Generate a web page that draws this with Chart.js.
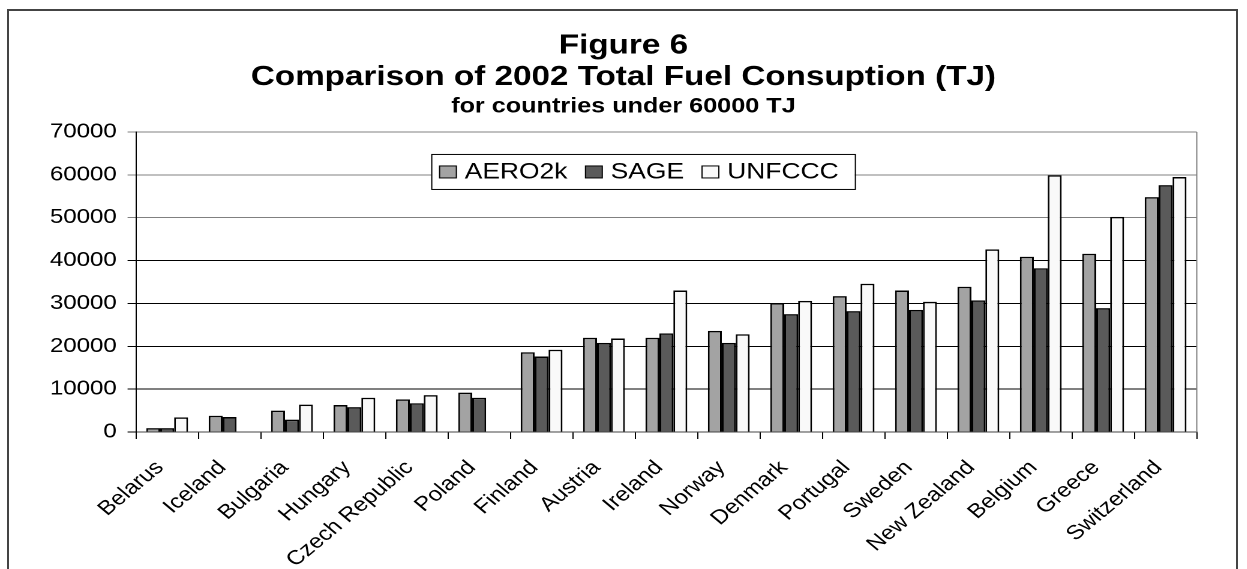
<!DOCTYPE html>
<html>
<head>
<meta charset="utf-8">
<script src="https://cdn.jsdelivr.net/npm/chart.js@4.4.1/dist/chart.umd.min.js"></script>
<style>
  html, body { margin: 0; padding: 0; background: #fff; overflow: hidden; }
  #frame { position: absolute; left: 7px; top: 9px; width: 1231px; height: 620px;
           border: 2px solid #444; box-sizing: border-box; }
  /* the original picture is stretched sideways, so draw narrow and widen it */
  #wrap { position: absolute; left: 0; top: 0; width: 1039px; height: 569px;
          transform: scaleX(1.2); transform-origin: 0 0; }
</style>
</head>
<body>
<div id="frame"></div>
<div id="wrap"><canvas id="fuelChart"></canvas></div>
<script>
// Figure 6 data (TJ)
const categories = ["Belarus", "Iceland", "Bulgaria", "Hungary", "Czech Republic", "Poland",
  "Finland", "Austria", "Ireland", "Norway", "Denmark", "Portugal", "Sweden",
  "New Zealand", "Belgium", "Greece", "Switzerland"];
const aero2k = [900, 3800, 5000, 6300, 7600, 9200, 18600, 22000, 22000, 23600, 30100,
  31700, 33000, 33900, 40900, 41600, 54800];
const sage = [900, 3500, 2900, 5800, 6700, 8000, 17600, 20800, 23000, 20800, 27500,
  28200, 28500, 30700, 38200, 28900, 57600];
const unfccc = [3400, null, 6400, 8000, 8600, null, 19200, 21800, 33000, 22800, 30600,
  34600, 30400, 42600, 59900, 50200, 59500];
const yTicks = [0, 10000, 20000, 30000, 40000, 50000, 60000, 70000];

const FONT = "'Liberation Sans', Arial, sans-serif";
Chart.defaults.color = "#000";
Chart.defaults.font.family = FONT;

// boxed legend inside the plot + grey right edge of the plot
const extras = {
  id: "extras",
  afterDatasetsDraw(chart) {
    const ctx = chart.ctx;
    const a = chart.chartArea;
    ctx.save();
    ctx.strokeStyle = "#808080";
    ctx.lineWidth = 1;
    ctx.beginPath();
    ctx.moveTo(a.right, a.top);
    ctx.lineTo(a.right, a.bottom);
    ctx.stroke();

    const bx = a.left + 246, by = a.top + 22, bw = 353, bh = 35;
    ctx.fillStyle = "#fff";
    ctx.fillRect(bx, by, bw, bh);
    ctx.strokeStyle = "#000";
    ctx.strokeRect(bx + 0.5, by + 0.5, bw, bh);

    ctx.font = "22px " + FONT;
    ctx.textBaseline = "middle";
    let x = bx + 7;
    chart.data.datasets.forEach(ds => {
      ctx.fillStyle = ds.backgroundColor;
      ctx.fillRect(x, by + 12, 14, 12);
      ctx.strokeStyle = "#000";
      ctx.strokeRect(x, by + 12, 14, 12);
      x += 21;
      ctx.fillStyle = "#000";
      ctx.fillText(ds.label, x, by + bh / 2 + 1);
      x += ctx.measureText(ds.label).width + 15;
    });
    ctx.restore();
  }
};

const ctx = document.getElementById("fuelChart");

new Chart(ctx, {
  type: "bar",
  data: {
    labels: categories,
    datasets: [
      { label: "AERO2k", data: aero2k, backgroundColor: "#a3a3a3" },
      { label: "SAGE", data: sage, backgroundColor: "#5a5a5a" },
      { label: "UNFCCC", data: unfccc, backgroundColor: "#f9f9f9" }
    ]
  },
  options: {
    responsive: true,
    maintainAspectRatio: false,
    animation: false,
    devicePixelRatio: 2,
    layout: { padding: 0 },
    datasets: {
      bar: {
        categoryPercentage: 0.67,
        barPercentage: 1.0,
        borderColor: "#000",
        borderWidth: 1.5
      }
    },
    plugins: {
      legend: { display: false },
      tooltip: { enabled: false },
      title: {
        display: true,
        text: ["Figure 6", "Comparison of 2002 Total Fuel Consuption (TJ)"],
        font: { size: 27.7, weight: "bold", lineHeight: 1.14 },
        padding: { top: 30, bottom: 0 }
      },
      subtitle: {
        display: true,
        text: "for countries under 60000 TJ",
        color: "#000",
        font: { size: 21, weight: "bold", lineHeight: 1.2 },
        padding: { top: 0.9, bottom: 12.7 }
      }
    },
    scales: {
      x: {
        afterFit: s => { s.height = 137; },
        grid: { display: true, drawOnChartArea: false, tickLength: 7, color: "#000" },
        border: { display: true, color: "#444", width: 1 },
        ticks: {
          autoSkip: false,
          minRotation: 45,
          maxRotation: 45,
          padding: 17,
          labelOffset: -6,
          font: { size: 20 }
        }
      },
      y: {
        min: 0,
        max: 70000,
        afterFit: s => { s.width = 113.3; },
        afterBuildTicks: s => { s.ticks = yTicks.map(v => ({ value: v })); },
        grid: {
          tickLength: 7,
          color: c => (c.tick && c.tick.value >= 50000) ? "#808080" : "#000"
        },
        border: { display: true, color: "#000", width: 1 },
        ticks: {
          padding: 9,
          font: { size: 20 },
          callback: v => String(v)
        }
      },
      // empty right margin so the titles stay centred on the whole frame
      spacer: {
        position: "right",
        afterFit: s => { s.width = 41.7; },
        grid: { display: false },
        border: { display: false },
        ticks: { display: false }
      }
    }
  },
  plugins: [extras]
});
</script>
</body>
</html>
